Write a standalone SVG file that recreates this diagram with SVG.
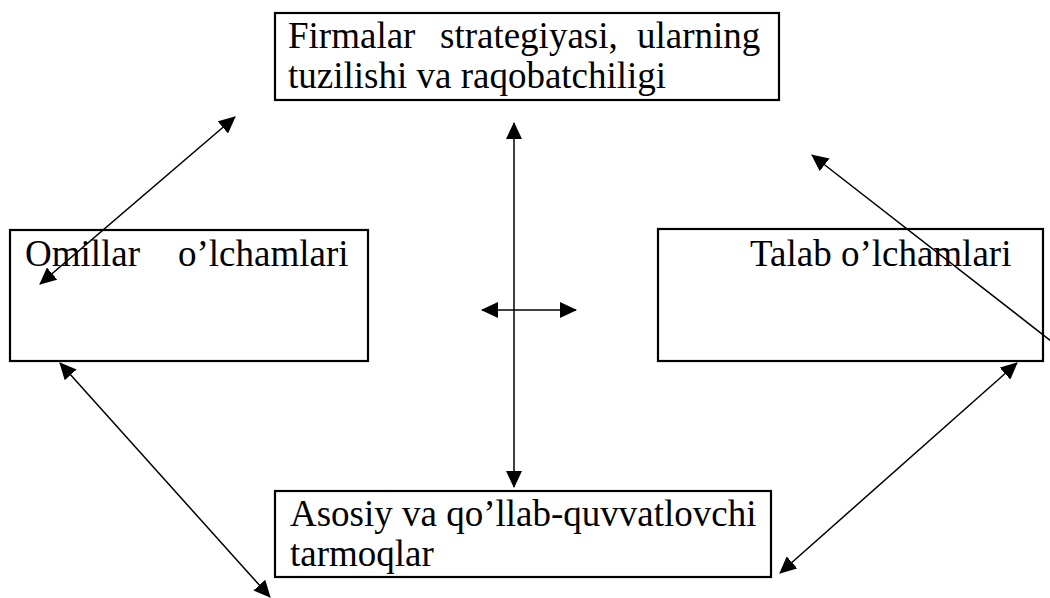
<svg xmlns="http://www.w3.org/2000/svg" width="1050" height="598" viewBox="0 0 1050 598">
<style>
.box{fill:#fff;stroke:#000;stroke-width:2.2}
.t{font-family:"Liberation Serif","Times New Roman",serif;font-size:37px;fill:#000}
.c{stroke:#000;stroke-width:1.5;fill:none}
</style>
<defs>
<marker id="ah" viewBox="0 0 17 16" markerWidth="17" markerHeight="16" refX="16" refY="8" orient="auto-start-reverse" markerUnits="userSpaceOnUse">
<path d="M0,0 L17,8 L0,16 z" fill="#000"/>
</marker>
</defs>
<rect width="1050" height="598" fill="#fff"/>
<g id="node-top">
<rect class="box" x="275" y="13" width="504" height="87"/>
<text class="t" y="48"><tspan x="288">Firmalar</tspan><tspan x="440">strategiyasi,</tspan><tspan x="637">ularning</tspan></text>
<text class="t" x="288" y="88">tuzilishi va raqobatchiligi</text>
</g>
<g id="node-left">
<rect class="box" x="10" y="230" width="358" height="131"/>
<text class="t" y="266"><tspan x="25">Omillar</tspan><tspan x="178">o’lchamlari</tspan></text>
</g>
<g id="node-right">
<rect class="box" x="658" y="229" width="385" height="132"/>
<text class="t" x="750" y="266">Talab o’lchamlari</text>
</g>
<g id="node-bottom">
<rect class="box" x="275" y="491" width="496" height="86"/>
<text class="t" x="290" y="526">Asosiy va qo’llab-quvvatlovchi</text>
<text class="t" x="290" y="566">tarmoqlar</text>
</g>
<g id="connectors">
<line class="c" x1="235" y1="117" x2="40" y2="284" marker-start="url(#ah)" marker-end="url(#ah)"/>
<line class="c" x1="514" y1="123" x2="514" y2="487" marker-start="url(#ah)" marker-end="url(#ah)"/>
<line class="c" x1="482" y1="310" x2="576" y2="310" marker-start="url(#ah)" marker-end="url(#ah)"/>
<line class="c" x1="1060" y1="348" x2="812" y2="155" marker-end="url(#ah)"/>
<line class="c" x1="60" y1="363" x2="270" y2="597" marker-start="url(#ah)" marker-end="url(#ah)"/>
<line class="c" x1="1017" y1="363" x2="780" y2="573" marker-start="url(#ah)" marker-end="url(#ah)"/>
</g>
</svg>
